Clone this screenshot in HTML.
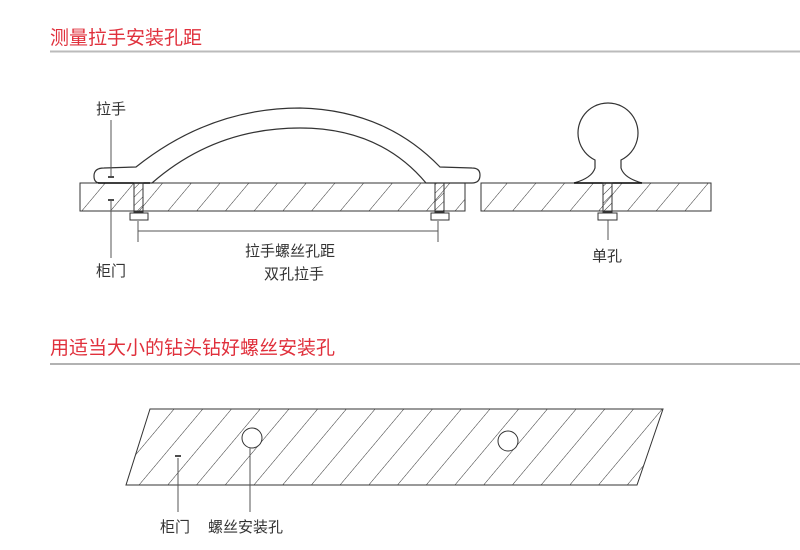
<!DOCTYPE html>
<html><head><meta charset="utf-8"><style>
html,body{margin:0;padding:0;background:#fff;width:800px;height:550px;overflow:hidden}
svg{display:block}
text{font-family:"Liberation Sans","Noto Sans CJK SC",sans-serif}
</style></head><body>
<svg width="800" height="550" viewBox="0 0 800 550" xmlns="http://www.w3.org/2000/svg">
<defs>
<pattern id="h" patternUnits="userSpaceOnUse" width="22" height="22" patternTransform="rotate(40)">
<line x1="0" y1="0" x2="0" y2="22" stroke="#333" stroke-width="1"/>
</pattern>
<pattern id="s" patternUnits="userSpaceOnUse" width="6" height="6" patternTransform="rotate(45)">
<line x1="0" y1="0" x2="0" y2="6" stroke="#333" stroke-width="1"/>
</pattern>
</defs>
<text x="50" y="44" font-size="19" fill="#e0303c">测量拉手安装孔距</text>
<line x1="50" y1="51.5" x2="800" y2="51.5" stroke="#bbb" stroke-width="2"/>

<rect x="80" y="183" width="385" height="28" fill="url(#h)" stroke="#333" stroke-width="1"/>
<path d="M138,183 L100,183 Q94,183 94,176 Q94,168 104,168 L136,167 Q210,108 300,108 Q385,110 440,167 L472,168 Q480,168 480,175 Q480,183 472,183 L426,183 Q380,128 300,128 Q215,128 152,183 Z" fill="#fff" stroke="#333" stroke-width="1.2"/>
<line x1="98" y1="183" x2="150" y2="183" stroke="#111" stroke-width="1.5"/>
<rect x="134" y="183" width="9" height="29" fill="url(#s)" stroke="#333"/>
<rect x="130" y="213" width="18" height="7" fill="#fff" stroke="#333"/>
<rect x="435" y="183" width="9" height="29" fill="url(#s)" stroke="#333"/>
<rect x="431" y="213" width="18" height="7" fill="#fff" stroke="#333"/>
<line x1="138" y1="231" x2="438" y2="231" stroke="#555"/>
<line x1="138" y1="221" x2="138" y2="242" stroke="#555"/>
<line x1="438" y1="221" x2="438" y2="242" stroke="#555"/>
<text x="290" y="256" font-size="15" fill="#333" text-anchor="middle">拉手螺丝孔距</text>
<text x="294" y="279" font-size="15" fill="#333" text-anchor="middle">双孔拉手</text>
<text x="96" y="114" font-size="15" fill="#333">拉手</text>
<line x1="111" y1="120" x2="111" y2="176" stroke="#555"/>
<line x1="108" y1="177" x2="114" y2="177" stroke="#111" stroke-width="1.5"/>
<line x1="108" y1="200" x2="114" y2="200" stroke="#111" stroke-width="1.5"/>
<line x1="111" y1="200" x2="111" y2="258" stroke="#555"/>
<text x="96" y="276" font-size="15" fill="#333">柜门</text>

<rect x="481" y="183" width="230" height="28" fill="url(#h)" stroke="#333"/>
<path d="M574,183 Q592,178 595,168 L595,160 A30,30 0 1 1 621,160 L621,168 Q624,178 642,183 Z" fill="#fff" stroke="#333" stroke-width="1.2"/>
<line x1="574" y1="183" x2="642" y2="183" stroke="#111" stroke-width="1.5"/>
<rect x="603" y="183" width="9" height="29" fill="url(#s)" stroke="#333"/>
<rect x="598" y="213" width="19" height="7" fill="#fff" stroke="#333"/>
<line x1="608" y1="220" x2="608" y2="240" stroke="#555"/>
<text x="592" y="261" font-size="15" fill="#333">单孔</text>

<text x="50" y="354" font-size="19" fill="#e0303c">用适当大小的钻头钻好螺丝安装孔</text>
<line x1="50" y1="364" x2="800" y2="364" stroke="#999" stroke-width="1.5"/>

<polygon points="150,409 663,409 637,485 126,485" fill="url(#h)" stroke="#333"/>
<circle cx="252" cy="438" r="10" fill="#fff" stroke="#333"/>
<circle cx="508" cy="441" r="10" fill="#fff" stroke="#333"/>
<line x1="175" y1="456" x2="181" y2="456" stroke="#111" stroke-width="1.5"/>
<line x1="178" y1="458" x2="178" y2="512" stroke="#555"/>
<line x1="250" y1="448" x2="250" y2="512" stroke="#555"/>
<text x="160" y="532" font-size="15" fill="#333">柜门</text>
<text x="208" y="532" font-size="15" fill="#333">螺丝安装孔</text>
</svg>
</body></html>
